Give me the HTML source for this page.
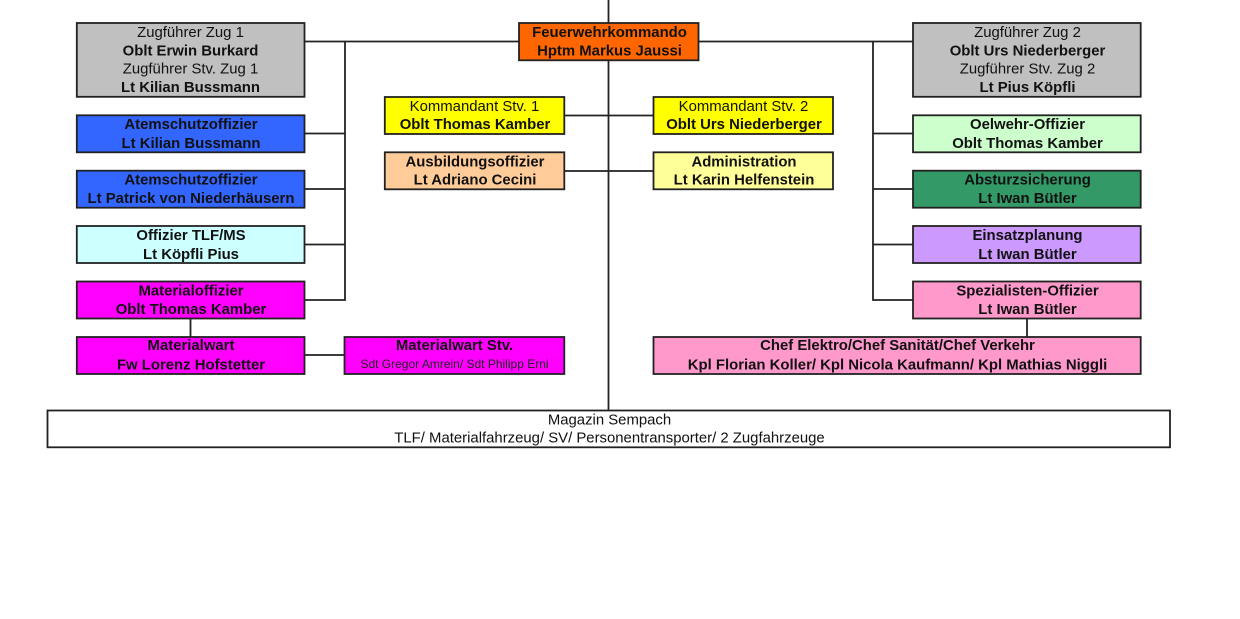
<!DOCTYPE html>
<html lang="de">
<head>
<meta charset="utf-8">
<title>Organigramm Feuerwehr</title>
<style>
html,body{margin:0;padding:0;background:#fff;width:1240px;height:619px;overflow:hidden}
svg{display:block}
text{font-family:"Liberation Sans",Arial,sans-serif;font-size:14.9px;text-anchor:middle;fill:#111}
.b{font-weight:bold}
.s{font-size:12px;fill:#222}
rect{stroke:#222;stroke-width:1.8}
path{fill:none;stroke:#222;stroke-width:1.8}
</style>
</head>
<body>
<svg width="1240" height="619" viewBox="0 0 1240 619" xmlns="http://www.w3.org/2000/svg">
<rect x="0" y="0" width="1240" height="619" style="fill:#fff;stroke:none"/>
<!-- connectors -->
<path d="M608.500 0V410.500"/>
<path d="M304.500 41.500H519M698.500 41.500H913"/>
<path d="M345 41.500V300H304.500M304.500 133.500H345M304.500 189H345M304.500 244.500H345"/>
<path d="M873 41.500V300H913M873 133.500H913M873 189H913M873 244.500H913"/>
<path d="M564.500 115.500H653.500M564.500 171H653.500"/>
<path d="M190.500 319V337M304.500 355H344.500M1027 319V337"/>
<!-- top -->
<rect x="519" y="23" width="179.500" height="37.300" fill="#ff6600"/>
<text class="b" x="609.500" y="37">Feuerwehrkommando</text>
<text class="b" x="609.500" y="55.500">Hptm Markus Jaussi</text>
<!-- left column -->
<rect x="76.800" y="23" width="227.700" height="73.800" fill="#c0c0c0"/>
<text x="190.500" y="37">Zugführer Zug 1</text>
<text class="b" x="190.500" y="55.500">Oblt Erwin Burkard</text>
<text x="190.500" y="73.500">Zugführer Stv. Zug 1</text>
<text class="b" x="190.500" y="92">Lt Kilian Bussmann</text>
<rect x="76.800" y="115.300" width="227.700" height="37" fill="#3366ff"/>
<text class="b" x="191" y="129">Atemschutzoffizier</text>
<text class="b" x="191" y="148">Lt Kilian Bussmann</text>
<rect x="76.800" y="170.700" width="227.700" height="37" fill="#3366ff"/>
<text class="b" x="191" y="184.500">Atemschutzoffizier</text>
<text class="b" x="191" y="203">Lt Patrick von Niederhäusern</text>
<rect x="76.800" y="226" width="227.700" height="37" fill="#ccffff"/>
<text class="b" x="191" y="240">Offizier TLF/MS</text>
<text class="b" x="191" y="259">Lt Köpfli Pius</text>
<rect x="76.800" y="281.500" width="227.700" height="37" fill="#ff00ff"/>
<text class="b" x="191" y="295.500">Materialoffizier</text>
<text class="b" x="191" y="314">Oblt Thomas Kamber</text>
<rect x="76.800" y="337" width="227.700" height="37" fill="#ff00ff"/>
<text class="b" x="191" y="350">Materialwart</text>
<text class="b" x="191" y="369.500">Fw Lorenz Hofstetter</text>
<rect x="344.500" y="337" width="219.800" height="37" fill="#ff00ff"/>
<text class="b" x="454.500" y="350">Materialwart Stv.</text>
<text class="s" x="454.500" y="368">Sdt Gregor Amrein/ Sdt Philipp Erni</text>
<!-- middle -->
<rect x="384.800" y="97" width="179.500" height="37" fill="#ffff00"/>
<text x="474.500" y="111">Kommandant Stv. 1</text>
<text class="b" x="475" y="129">Oblt Thomas Kamber</text>
<rect x="384.800" y="152.300" width="179.500" height="37" fill="#ffcc99"/>
<text class="b" x="475" y="166.500">Ausbildungsoffizier</text>
<text class="b" x="475" y="184.500">Lt Adriano Cecini</text>
<rect x="653.500" y="97" width="179.500" height="37" fill="#ffff00"/>
<text x="743.500" y="111">Kommandant Stv. 2</text>
<text class="b" x="744" y="129">Oblt Urs Niederberger</text>
<rect x="653.500" y="152.300" width="179.500" height="37" fill="#ffff99"/>
<text class="b" x="744" y="166.500">Administration</text>
<text class="b" x="744" y="184.500">Lt Karin Helfenstein</text>
<!-- right column -->
<rect x="913" y="23" width="227.700" height="73.800" fill="#c0c0c0"/>
<text x="1027.500" y="37">Zugführer Zug 2</text>
<text class="b" x="1027.500" y="55.500">Oblt Urs Niederberger</text>
<text x="1027.500" y="73.500">Zugführer Stv. Zug 2</text>
<text class="b" x="1027.500" y="92">Lt Pius Köpfli</text>
<rect x="913" y="115.300" width="227.700" height="37" fill="#ccffcc"/>
<text class="b" x="1027.500" y="129">Oelwehr-Offizier</text>
<text class="b" x="1027.500" y="148">Oblt Thomas Kamber</text>
<rect x="913" y="170.700" width="227.700" height="37" fill="#339966"/>
<text class="b" x="1027.500" y="184.500">Absturzsicherung</text>
<text class="b" x="1027.500" y="203">Lt Iwan Bütler</text>
<rect x="913" y="226" width="227.700" height="37" fill="#cc99ff"/>
<text class="b" x="1027.500" y="240">Einsatzplanung</text>
<text class="b" x="1027.500" y="259">Lt Iwan Bütler</text>
<rect x="913" y="281.500" width="227.700" height="37" fill="#ff99cc"/>
<text class="b" x="1027.500" y="295.500">Spezialisten-Offizier</text>
<text class="b" x="1027.500" y="314">Lt Iwan Bütler</text>
<rect x="653.500" y="337" width="487.200" height="37" fill="#ff99cc"/>
<text class="b" x="897.500" y="350">Chef Elektro/Chef Sanität/Chef Verkehr</text>
<text class="b" x="897.500" y="369.500">Kpl Florian Koller/ Kpl Nicola Kaufmann/ Kpl Mathias Niggli</text>
<!-- bottom -->
<rect x="47.500" y="410.500" width="1122.500" height="36.800" fill="#ffffff"/>
<text x="609.500" y="424.500">Magazin Sempach</text>
<text x="609.500" y="442.500">TLF/ Materialfahrzeug/ SV/ Personentransporter/ 2 Zugfahrzeuge</text>
</svg>
</body>
</html>
